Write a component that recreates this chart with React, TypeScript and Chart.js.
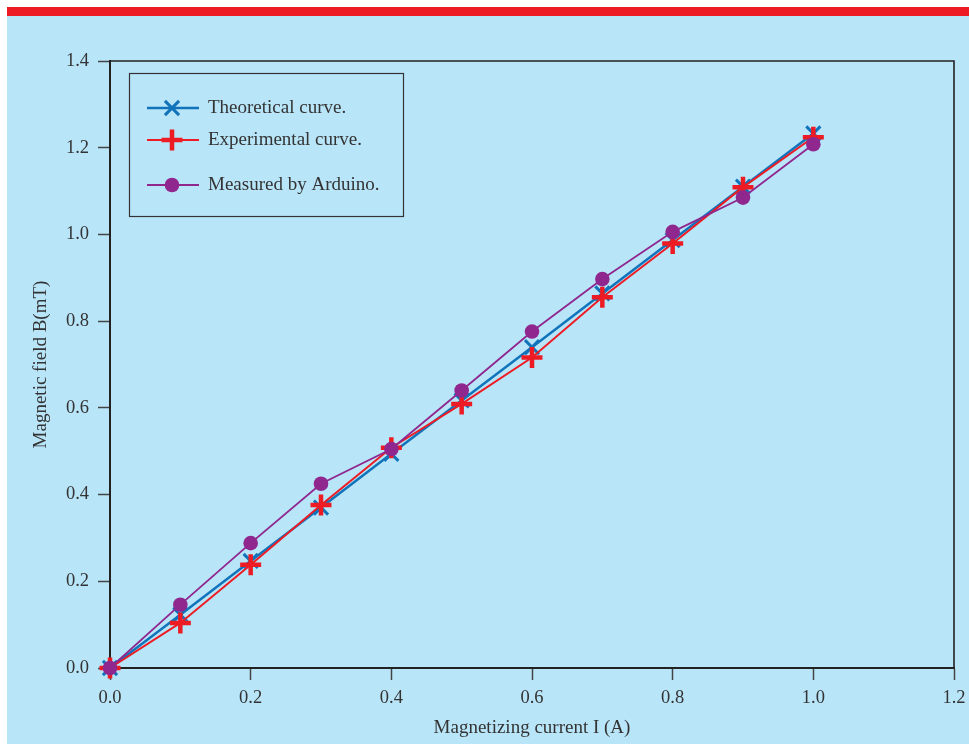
import React, { useEffect, useRef } from "react";
import { Chart, registerables } from "chart.js";

Chart.register(...registerables);

// Data
const currents = [0, 0.1, 0.2, 0.3, 0.4, 0.5, 0.6, 0.7, 0.8, 0.9, 1.0];
const theoretical = [0, 0.123, 0.247, 0.37, 0.494, 0.617, 0.74, 0.864, 0.987, 1.11, 1.233];
const experimental = [0, 0.104, 0.238, 0.376, 0.508, 0.609, 0.716, 0.855, 0.979, 1.109, 1.224];
const arduino = [0, 0.146, 0.288, 0.425, 0.505, 0.64, 0.776, 0.897, 1.006, 1.085, 1.208];
const seriesLabels = ["Theoretical curve.", "Experimental curve.", "Measured by Arduino."];
const xTitle = "Magnetizing current I (A)";
const yTitle = "Magnetic field B(mT)";
const xRange = [0, 1.2];
const yRange = [0, 1.4];
const tickStep = 0.2;

const BLUE = "#1174bb";
const RED = "#ed1c24";
const PURPLE = "#8f278f";
const TEXT = "#333333";
const AXIS = "#222222";
const SERIF = "'Liberation Serif', 'Times New Roman', serif";

const toPoints = (ys: number[]) => currents.map((x, i) => ({ x, y: ys[i] }));

const framePlugin = {
  id: "frame",
  beforeDatasetsDraw(chart: any) {
    const { ctx, chartArea } = chart;
    ctx.save();
    ctx.strokeStyle = AXIS;
    ctx.lineWidth = 1.6;
    ctx.beginPath();
    ctx.moveTo(chartArea.left, chartArea.top);
    ctx.lineTo(chartArea.right, chartArea.top);
    ctx.lineTo(chartArea.right, chartArea.bottom);
    ctx.stroke();
    ctx.restore();
  },
};

const legendPlugin = {
  id: "boxLegend",
  afterDraw(chart: any) {
    const { ctx, chartArea } = chart;
    const bx = chartArea.left + 19;
    const by = chartArea.top + 12;
    const bw = 274;
    const bh = 143;
    ctx.save();
    ctx.strokeStyle = "#333";
    ctx.lineWidth = 1.2;
    ctx.strokeRect(bx + 0.5, by + 0.5, bw, bh);
    const rows = [47, 79, 124];
    const lx1 = chartArea.left + 37;
    const lx2 = chartArea.left + 89;
    const mx = chartArea.left + 62;
    const tx = chartArea.left + 98;
    const styles = [
      { color: BLUE, lw: 2.5 },
      { color: RED, lw: 2 },
      { color: PURPLE, lw: 1.8 },
    ];
    rows.forEach((ry, i) => {
      const y = chartArea.top + ry;
      ctx.strokeStyle = styles[i].color;
      ctx.lineWidth = styles[i].lw;
      ctx.beginPath();
      ctx.moveTo(lx1, y);
      ctx.lineTo(lx2, y);
      ctx.stroke();
      if (i === 0) {
        const d = 10 * Math.SQRT1_2;
        ctx.lineWidth = 3;
        ctx.beginPath();
        ctx.moveTo(mx - d, y - d);
        ctx.lineTo(mx + d, y + d);
        ctx.moveTo(mx - d, y + d);
        ctx.lineTo(mx + d, y - d);
        ctx.stroke();
      } else if (i === 1) {
        ctx.lineWidth = 4.5;
        ctx.beginPath();
        ctx.moveTo(mx - 10.5, y);
        ctx.lineTo(mx + 10.5, y);
        ctx.moveTo(mx, y - 10.5);
        ctx.lineTo(mx, y + 10.5);
        ctx.stroke();
      } else {
        ctx.fillStyle = PURPLE;
        ctx.beginPath();
        ctx.arc(mx, y, 7.3, 0, Math.PI * 2);
        ctx.fill();
      }
      ctx.fillStyle = TEXT;
      ctx.font = `19px ${SERIF}`;
      ctx.textAlign = "left";
      ctx.textBaseline = "middle";
      ctx.fillText(seriesLabels[i], tx, y);
    });
    ctx.restore();
  },
};

export default function App() {
  const ref = useRef<HTMLCanvasElement>(null);

  useEffect(() => {
    const tickFont = { family: SERIF, size: 18.5 };
    const titleFont = { family: SERIF, size: 19 };
    const grid = {
      display: true,
      drawOnChartArea: false,
      drawTicks: true,
      tickLength: 12,
      tickColor: "#444",
      tickWidth: 1.5,
    };
    const chart = new Chart(ref.current!, {
      type: "line",
      data: {
        datasets: [
          {
            label: seriesLabels[0],
            data: toPoints(theoretical),
            borderColor: BLUE,
            backgroundColor: BLUE,
            borderWidth: 2.5,
            pointStyle: "crossRot",
            pointRadius: 10,
            pointBorderWidth: 3,
            pointBorderColor: BLUE,
            order: 3,
            clip: false as any,
          },
          {
            label: seriesLabels[1],
            data: toPoints(experimental),
            borderColor: RED,
            backgroundColor: RED,
            borderWidth: 2,
            pointStyle: "cross",
            pointRadius: 10.5,
            pointBorderWidth: 4.5,
            pointBorderColor: RED,
            order: 2,
            clip: false as any,
          },
          {
            label: seriesLabels[2],
            data: toPoints(arduino),
            borderColor: PURPLE,
            backgroundColor: PURPLE,
            borderWidth: 1.8,
            pointStyle: "circle",
            pointRadius: 7.3,
            pointBorderWidth: 0,
            pointBackgroundColor: PURPLE,
            order: 1,
            clip: false as any,
          },
        ],
      },
      options: {
        animation: false,
        responsive: false,
        events: [],
        layout: { padding: { left: 0, top: 45, right: 14, bottom: 0 } },
        plugins: {
          legend: { display: false },
          tooltip: { enabled: false },
        },
        elements: { line: { tension: 0 } },
        scales: {
          x: {
            type: "linear",
            min: xRange[0],
            max: xRange[1],
            afterFit: (s: any) => {
              s.height = 76;
              s.paddingLeft = 0;
              s.paddingRight = 0;
            },
            ticks: {
              stepSize: tickStep,
              color: TEXT,
              font: tickFont,
              padding: 7.5,
              maxRotation: 0,
              callback: (v: any) => Number(v).toFixed(1),
            },
            grid,
            border: { display: true, color: AXIS, width: 2 },
            title: {
              display: true,
              text: xTitle,
              color: TEXT,
              font: titleFont,
              padding: { top: 0, bottom: 5 },
            },
          },
          y: {
            type: "linear",
            min: yRange[0],
            max: yRange[1],
            afterFit: (s: any) => {
              s.width = 103;
              s.paddingTop = 0;
              s.paddingBottom = 0;
            },
            ticks: {
              stepSize: tickStep,
              color: TEXT,
              font: tickFont,
              padding: 9,
              callback: (v: any) => Number(v).toFixed(1),
            },
            grid,
            border: { display: true, color: AXIS, width: 2 },
            title: {
              display: true,
              text: yTitle,
              color: TEXT,
              font: titleFont,
              padding: { top: 23, bottom: 0 },
            },
          },
        },
      },
      plugins: [framePlugin, legendPlugin],
    } as any);
    return () => chart.destroy();
  }, []);

  return (
    <div
      style={{
        position: "absolute",
        left: 7,
        top: 7,
        width: 962,
        height: 737,
        background: "#b9e5f9",
        overflow: "hidden",
      }}
    >
      <div style={{ height: 9, background: RED }} />
      <canvas
        ref={ref}
        width={962}
        height={728}
        style={{ display: "block", width: 962, height: 728 }}
      />
    </div>
  );
}
